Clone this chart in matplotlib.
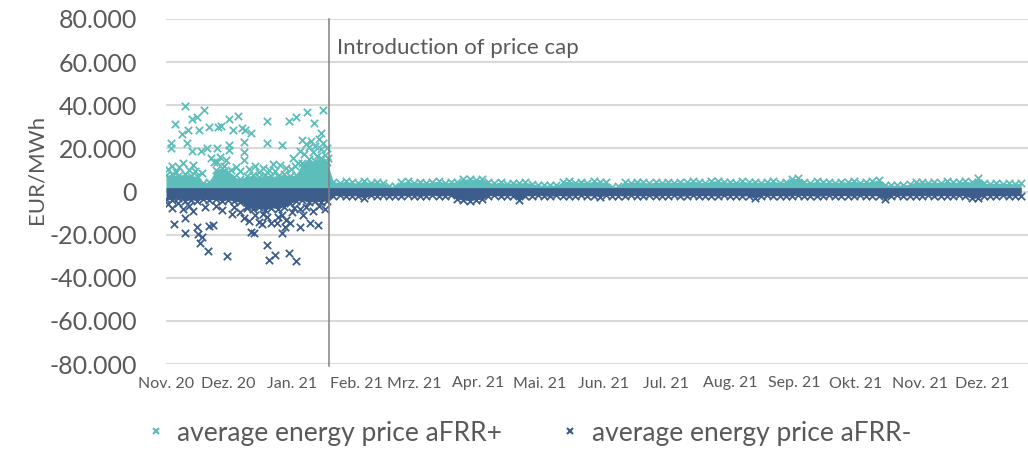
import numpy as np
import matplotlib
matplotlib.use("Agg")
import matplotlib.pyplot as plt
from matplotlib.ticker import FuncFormatter
from matplotlib.lines import Line2D

plt.rcParams['font.family'] = ['Lato', 'DejaVu Sans']

# x axis: days since 1 Nov 2020
month_labels = ["Nov. 20", "Dez. 20", "Jan. 21", "Feb. 21", "Mrz. 21", "Apr. 21", "Mai. 21",
                "Jun. 21", "Jul. 21", "Aug. 21", "Sep. 21", "Okt. 21", "Nov. 21", "Dez. 21"]
month_days = [0, 30, 61, 92, 120, 151, 181, 212, 242, 273, 304, 334, 365, 395]
cap_day = 79

# dense band, read every 3 days (EUR/MWh in thousands)
band_days = list(range(0, 415, 3))
plus_top_k = [
    # before price cap (day 0..78)
    7.5, 8.0, 7.2, 8.3, 7.4, 7.0, 4.0, 4.5, 10.0, 11.0, 9.0, 6.5, 6.0, 7.0,
    7.5, 6.5, 7.8, 7.0, 7.4, 8.0, 7.2, 7.8, 13.0, 15.0, 14.0, 15.5, 13.5,
    # after price cap (day 81..414)
    4.6, 4.0, 4.8, 4.2, 3.9, 4.7, 4.1, 4.5, 3.8,
    2.6, 2.4,
    4.3, 4.7, 4.0, 4.5, 3.9, 4.4, 4.8, 4.1, 4.3, 4.6,
    5.6, 6.0, 5.4, 5.8,
    4.2, 3.8, 4.4, 3.6, 4.1, 3.9, 4.3, 3.7,
    3.0, 2.9, 3.1, 2.8,
    4.4, 4.9, 4.1, 4.6, 4.0, 4.8, 4.3, 4.5,
    2.2, 2.4,
    4.3, 4.0, 4.6, 4.2, 3.9, 4.4, 4.1, 4.5, 4.0,
    4.6, 4.2, 4.9, 4.4, 4.0, 4.7, 5.1, 4.3, 4.5, 4.1, 4.8, 4.2, 4.6, 4.0, 4.4, 4.7, 4.1, 4.5,
    5.9, 6.1,
    4.4, 4.1, 4.7, 4.2, 4.5, 4.0, 4.6, 4.3, 4.8, 4.1, 4.4, 4.7,
    5.5,
    3.2, 3.0, 2.9, 3.1, 3.3,
    4.3, 4.6, 4.1, 4.5, 4.0, 4.7, 4.2, 4.4, 4.8, 4.3,
    6.2,
    3.9, 3.6, 4.0, 3.7, 3.8, 3.5, 3.9,
]
minus_bottom_k = [
    # before price cap (day 0..78)
    -3.5, -4.0, -3.2, -4.5, -3.8, -4.2, -3.5, -4.0, -3.6, -4.4, -3.8, -4.5, -5.0, -6.5,
    -8.0, -7.0, -8.5, -7.5, -8.0, -7.0, -5.5, -4.5, -4.0, -5.0, -4.5, -4.8, -4.2,
    # after price cap (day 81..414)
    -2.0, -1.8, -2.2, -1.9, -2.1,
    -3.0,
    -1.8, -2.0, -1.7, -2.2, -1.9, -2.1, -1.8, -2.0, -2.3, -1.9, -1.7, -2.1, -2.0, -1.8,
    -3.5, -4.0, -4.2, -3.8, -3.6,
    -2.0, -1.8, -2.2, -1.9, -2.1,
    -3.8,
    -1.9, -2.1, -1.7, -2.0, -2.3, -1.8, -2.0, -2.2, -1.9, -1.7, -2.1, -2.0, -2.4, -1.8,
    -2.0, -1.9, -2.2, -1.7, -2.0, -2.1, -1.8, -2.3, -1.9, -2.0, -1.7, -2.2, -2.0, -1.8,
    -2.1, -1.9, -2.0, -2.2, -1.8, -2.0, -1.9, -2.1, -2.0,
    -3.2,
    -2.0, -1.8, -2.1, -1.9, -2.2, -2.0, -1.7, -2.1, -1.9, -2.3, -2.0, -1.8, -2.1, -1.9,
    -2.0, -2.2, -1.8, -2.0, -1.9, -2.1,
    -3.5,
    -2.0, -1.8, -2.2, -1.9, -2.1, -2.0, -1.7, -2.2, -1.9, -2.0, -2.1, -1.8, -2.0,
    -3.2, -3.0,
    -2.0, -1.9, -2.2, -1.8, -2.1, -2.0, -1.9,
]
minus_top_k = 1.8

# scattered points before the price cap (day, EUR/MWh)
plus_spike_days = [9.2, 4.4, 12.4, 14.9, 18.4, 10.8, 7.6, 16.1, 20.8, 25.3, 26.5, 30.7, 35.0,
                   32.6, 36.6, 38.3, 41.0, 48.8, 59.7, 63.0, 68.1, 71.7, 76.2, 74.9, 2.4, 2.3,
                   10.0, 12.4, 16.8, 19.7, 24.5, 30.7, 30.7, 37.8, 37.8, 37.8, 48.8, 56.0, 52.0,
                   61.7, 24.5, 66.0, 68.0, 70.0, 72.0, 74.0, 76.0, 78.0, 65.0, 67.0, 69.0, 71.0,
                   73.0, 75.0, 77.0, 78.5,
                   1.0, 3.0, 5.0, 6.5, 8.0, 11.0, 13.0, 14.0, 17.5, 22.0, 23.0, 26.0, 28.0, 29.0,
                   31.5, 34.0, 36.0, 40.0, 43.0, 45.0, 47.0, 50.0, 53.0, 55.0, 58.0, 60.5, 62.5,
                   64.0]
plus_spike_vals = [39700, 31200, 33500, 34400, 37900, 28500, 26500, 28500, 29800, 29800, 30400,
                   33500, 35000, 28500, 29300, 28500, 27300, 32700, 32700, 34700, 36700, 31900,
                   37900, 27300, 22700, 20000, 22300, 18800, 18900, 20000, 20000, 21600, 19300,
                   23100, 18500, 14600, 22300, 21600, 12800, 15400, 13800, 24000, 22000, 23500,
                   21000, 24500, 22500, 20000, 19000, 17500, 20500, 18500, 16500, 19500, 17000,
                   15500,
                   10500, 12000, 9000, 11500, 13000, 10000, 12500, 9500, 8500, 15500, 13500,
                   16000, 12000, 14500, 10000, 11500, 9500, 10500, 12000, 9000, 11000, 10000,
                   9500, 12500, 11000, 10500, 12000, 13000]
minus_spike_days = [4.1, 9.2, 9.2, 14.9, 15.7, 17.3, 16.5, 21.0, 22.6, 20.5, 29.4, 31.8, 39.1,
                    41.0, 42.6, 44.7, 46.3, 48.8, 50.0, 52.8, 53.6, 56.0, 57.6, 59.7, 63.0, 60.0,
                    64.9, 69.7, 73.8, 66.5,
                    1.0, 3.0, 6.0, 8.0, 11.0, 13.0, 19.0, 24.0, 27.0, 33.0, 36.0, 38.0, 40.0,
                    43.0, 45.0, 47.0, 49.0, 51.0, 54.0, 56.0, 58.0, 61.0, 62.0, 65.0, 68.0, 71.0,
                    74.0, 77.0]
minus_spike_vals = [-15200, -12500, -19400, -16600, -19700, -21000, -23700, -16000, -15500,
                    -27600, -29800, -10400, -7800, -18600, -19400, -6700, -15100, -24800, -31800,
                    -29500, -14800, -19400, -16600, -28400, -32100, -14800, -16300, -14500,
                    -15500, -10900,
                    -6000, -7500, -5500, -8000, -6500, -9000, -7000, -6500, -8500, -7000, -9500,
                    -12500, -13500, -11000, -14000, -10500, -12000, -14500, -12000, -11000,
                    -13000, -9500, -7500, -8000, -7000, -9000, -6500, -8000]

teal = '#5CBDBA'
navy = '#3D5E8D'
grey_txt = '#595959'

fig = plt.figure(figsize=(10.28, 4.59), dpi=100)
ax = fig.add_axes([166 / 1028, 1 - 364 / 459, 1 - 166 / 1028, (364 - 19) / 459])

plus_top = np.array(plus_top_k) * 1000
minus_bot = np.array(minus_bottom_k) * 1000

ax.fill_between(band_days, 0, plus_top, color=teal, lw=0, zorder=2)
ax.scatter(band_days, plus_top, marker='x', s=28, color=teal, linewidths=1.3, zorder=2)
ax.scatter(plus_spike_days, plus_spike_vals, marker='x', s=28, color=teal, linewidths=1.3, zorder=2)

ax.fill_between(band_days, minus_bot, minus_top_k * 1000, color=navy, lw=0, zorder=3)
ax.scatter(band_days, minus_bot, marker='x', s=28, color=navy, linewidths=1.3, zorder=3)
ax.scatter(minus_spike_days, minus_spike_vals, marker='x', s=28, color=navy, linewidths=1.3, zorder=3)

ax.axvline(cap_day, ymin=-0.006, ymax=1.0, color='#808080', lw=1.1, zorder=4, clip_on=False)
ax.text(cap_day + 4, 66500, "Introduction of price cap", fontsize=16, color=grey_txt,
        va='center', ha='left')

ax.set_xlim(0, 417.3)
ax.set_ylim(-80000, 80000)
ax.set_yticks(np.arange(-80000, 80001, 20000))
ax.yaxis.set_major_formatter(FuncFormatter(lambda v, p: f"{v:,.0f}".replace(",", ".")))
ax.set_xticks(month_days)
ax.set_xticklabels(month_labels)
ax.tick_params(axis='y', length=0, pad=21, labelsize=18, labelcolor=grey_txt)
ax.tick_params(axis='x', length=0, pad=9, labelsize=11.5, labelcolor=grey_txt)
ax.yaxis.grid(True, color='#D9D9D9', lw=1.5, zorder=0)
ax.set_axisbelow(True)
for s in ax.spines.values():
    s.set_visible(False)
ax.set_ylabel("EUR/MWh", fontsize=16, color=grey_txt)
ax.yaxis.set_label_coords(-166 / 1028 + 23 / 1028, 0.565)

handles = [Line2D([], [], ls='none', marker='x', color=teal, markersize=5, mew=1.5),
           Line2D([], [], ls='none', marker='x', color=navy, markersize=5, mew=1.5)]
fig.legend(handles, ["average energy price aFRR+", "average energy price aFRR-"],
           loc='center', bbox_to_anchor=(528 / 1028, 1 - 433 / 459), ncol=2, frameon=False,
           fontsize=19, labelcolor=grey_txt, handlelength=0.8, handletextpad=0.4,
           columnspacing=2.2)

fig.savefig("out.png", dpi=100)
